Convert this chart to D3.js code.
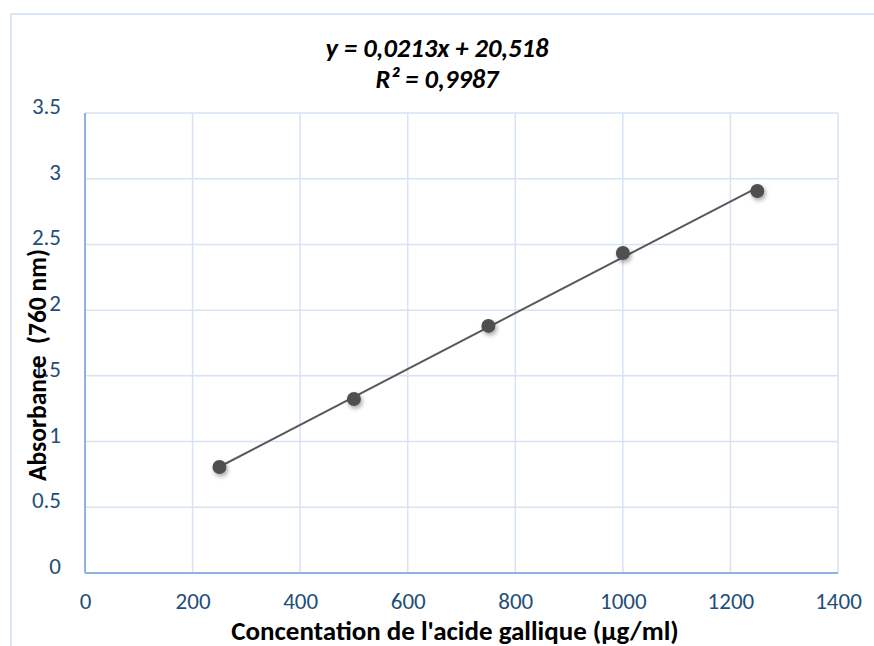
<!DOCTYPE html>
<html>
<head>
<meta charset="utf-8">
<script src="https://cdn.jsdelivr.net/npm/d3@7"></script>
<style>
  html, body { margin: 0; padding: 0; background: #fff; }
  svg { display: block; }
  text { font-family: Carlito, Lato, "Open Sans", sans-serif; }
  .tick text { font-size: 23px !important; fill: #1f4e79; }
</style>
</head>
<body>
<svg id="chart" width="874" height="646"></svg>
<script>
// ---- data ----
const concentrations = [250, 500, 750, 1000, 1250];
const absorbances = [0.807, 1.324, 1.88, 2.435, 2.907];
const xTicks = [0, 200, 400, 600, 800, 1000, 1200, 1400];
const yTicks = [0, 0.5, 1, 1.5, 2, 2.5, 3, 3.5];
const equationLines = ["y = 0,0213x + 20,518", "R² = 0,9987"];
const xTitle = "Concentation de l'acide gallique (µg/ml)";
const yTitle = "Absorbance  (760 nm)";

const svg = d3.select("#chart");
const W = 874, H = 646;
const plot = { left: 85, right: 838, top: 113, bottom: 573 };

// chart frame (left and top only, as in reference)
svg.append("path")
  .attr("d", `M11,${H} L11,14 L${W},14`)
  .attr("fill", "none").attr("stroke", "#dae5f5").attr("stroke-width", 2);

const x = d3.scaleLinear().domain([0, 1400]).range([plot.left, plot.right]);
const y = d3.scaleLinear().domain([0, 3.5]).range([plot.bottom, plot.top]);

// gridlines
const grid = svg.append("g");
grid.selectAll("line.v").data(xTicks).join("line")
  .attr("x1", d => x(d)).attr("x2", d => x(d))
  .attr("y1", plot.top).attr("y2", plot.bottom)
  .attr("stroke", "#d6e3f5").attr("stroke-width", 1.5);
grid.selectAll("line.h").data(yTicks).join("line")
  .attr("x1", plot.left).attr("x2", plot.right)
  .attr("y1", d => y(d)).attr("y2", d => y(d))
  .attr("stroke", "#d6e3f5").attr("stroke-width", 1.5);

// axes lines
svg.append("line").attr("x1", plot.left).attr("x2", plot.left)
  .attr("y1", plot.top).attr("y2", plot.bottom)
  .attr("stroke", "#8db3e2").attr("stroke-width", 2);
svg.append("line").attr("x1", plot.left).attr("x2", plot.right)
  .attr("y1", plot.bottom).attr("y2", plot.bottom)
  .attr("stroke", "#8db3e2").attr("stroke-width", 2);

// axes via d3
const xAxis = d3.axisBottom(x).tickValues(xTicks).tickSize(0).tickPadding(20).tickFormat(d => d);
const yAxis = d3.axisLeft(y).tickValues(yTicks).tickSize(0).tickPadding(24).tickFormat(d => d);
const gx = svg.append("g").attr("transform", `translate(0,${plot.bottom})`).call(xAxis);
const gy = svg.append("g").attr("transform", `translate(${plot.left},0)`).call(yAxis);
[gx, gy].forEach(g => {
  g.attr("font-size", 23).attr("font-family", "Carlito, Lato, sans-serif");
  g.select(".domain").remove();
  g.selectAll("text").attr("fill", "#1f4e79").attr("font-size", 23);
});
gy.selectAll("text").attr("dy", "0.02em").attr("x", -24);

// shadow filter
const defs = svg.append("defs");
const f = defs.append("filter").attr("id", "shadow").attr("x", "-50%").attr("y", "-50%").attr("width", "200%").attr("height", "200%");
f.append("feDropShadow").attr("dx", 1.5).attr("dy", 2.5).attr("stdDeviation", 2)
  .attr("flood-color", "#000").attr("flood-opacity", 0.35);

// linear regression trendline
const mx = d3.mean(concentrations), my = d3.mean(absorbances);
let sxy = 0, sxx = 0;
concentrations.forEach((c, i) => { sxy += (c - mx) * (absorbances[i] - my); sxx += (c - mx) ** 2; });
const slope = sxy / sxx, intercept = my - slope * mx;
const x0 = d3.min(concentrations), x1 = d3.max(concentrations);
svg.append("line")
  .attr("x1", x(x0)).attr("y1", y(intercept + slope * x0))
  .attr("x2", x(x1)).attr("y2", y(intercept + slope * x1))
  .attr("stroke", "#595959").attr("stroke-width", 2);

// points
svg.append("g").selectAll("circle").data(concentrations).join("circle")
  .attr("cx", d => x(d)).attr("cy", (d, i) => y(absorbances[i]))
  .attr("r", 7).attr("fill", "#505050").attr("filter", "url(#shadow)");

// equation text
svg.append("g").selectAll("text").data(equationLines).join("text")
  .attr("x", 437).attr("y", (d, i) => 57 + i * 31)
  .attr("text-anchor", "middle").style("font-size", "26.5px")
  .attr("font-weight", "bold").attr("font-style", "italic").attr("fill", "#000")
  .text(d => d);

// axis titles
svg.append("text").attr("x", 455).attr("y", 640)
  .attr("text-anchor", "middle").style("font-size", "27px").attr("font-weight", "bold")
  .attr("fill", "#000").text(xTitle);
svg.append("text").attr("transform", "translate(46,365) rotate(-90)")
  .attr("text-anchor", "middle").style("font-size", "25.5px").attr("font-weight", "bold")
  .style("white-space", "pre")
  .attr("fill", "#000").text(yTitle);
</script>
</body>
</html>
